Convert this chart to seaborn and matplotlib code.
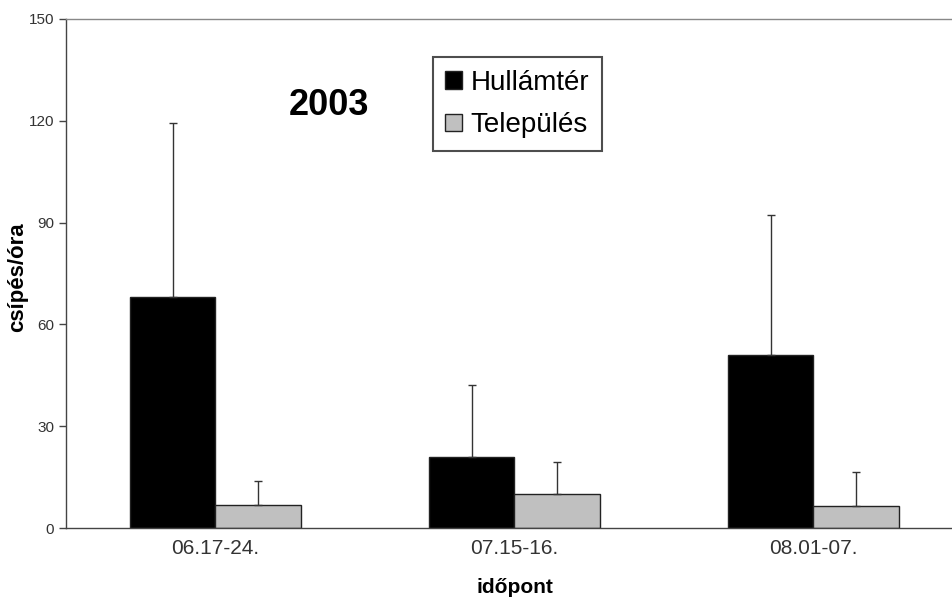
import numpy as np
import matplotlib
matplotlib.use('Agg')
import matplotlib.pyplot as plt
import seaborn as sns
import pandas as pd

# Data
periods = ['06.17-24.', '07.15-16.', '08.01-07.']
groups = ['Hullámtér', 'Település']
hullamter = [68.0, 21.0, 51.0]
telepules = [6.8, 10.0, 6.6]
hullamter_err = [51.4, 21.0, 41.2]
telepules_err = [7.1, 9.5, 10.0]

df = pd.DataFrame({
    'időpont': periods * 2,
    'érték': hullamter + telepules,
    'csoport': [groups[0]] * 3 + [groups[1]] * 3,
})

sns.set_style('white')
plt.rcParams['font.family'] = ['Liberation Sans', 'DejaVu Sans']
plt.rcParams['text.color'] = 'black'

fig = plt.figure(figsize=(9.53, 5.97), dpi=100)
ax = fig.add_axes([66 / 953, 69 / 597, 897 / 953, 509 / 597])

sns.barplot(data=df, x='időpont', y='érték', hue='csoport',
            palette=['#000000', '#c0c0c0'], edgecolor='#222222', linewidth=1,
            width=0.57, errorbar=None, ax=ax)

# upper-only error bars
for cont, err in zip(ax.containers, [hullamter_err, telepules_err]):
    xs = [b.get_x() + b.get_width() / 2 for b in cont]
    hs = [b.get_height() for b in cont]
    ax.errorbar(xs, hs, yerr=[np.zeros(len(err)), err], fmt='none',
                ecolor='#333333', elinewidth=1, capsize=3, capthick=1)

ax.set_xlim(-0.5, 2.5)
ax.set_ylim(0, 150)
ax.set_yticks([0, 30, 60, 90, 120, 150])
ax.set_xticks([0, 1, 2])
ax.set_xticklabels(periods)
ax.set_xticks([-0.5, 0.5, 1.5, 2.5], minor=True)
ax.tick_params(axis='x', which='major', length=0, labelsize=15, colors='#333333', pad=8)
ax.tick_params(axis='x', which='minor', length=5, width=1, color='#444444', direction='out')
ax.tick_params(axis='y', length=5, width=1, color='#444444', direction='out',
               labelsize=11, labelcolor='#333333', left=True)

for side in ['left', 'bottom']:
    ax.spines[side].set_color('#444444')
    ax.spines[side].set_linewidth(1)
ax.spines['top'].set_color('#888888')
ax.spines['top'].set_linewidth(1)
ax.spines['right'].set_visible(False)

ax.set_ylabel('csípés/óra', fontsize=16, fontweight='bold', color='black')
ax.yaxis.set_label_coords(-0.042, 0.493)
ax.set_xlabel('időpont', fontsize=15, fontweight='bold', color='black', labelpad=14)

ax.text(0.293, 0.831, '2003', transform=ax.transAxes, fontsize=26,
        fontweight='bold', ha='center', va='center', color='black')

leg = ax.legend(loc='upper left', bbox_to_anchor=(433 / 953, 1 - 57 / 597),
                bbox_transform=fig.transFigure, borderaxespad=0,
                fontsize=20, frameon=True, fancybox=False, handlelength=0.6,
                handleheight=0.6, handletextpad=0.3, labelspacing=0.6,
                borderpad=0.45, title=None)
leg.get_frame().set_edgecolor('#222222')
leg.get_frame().set_linewidth(1.5)
for t in leg.get_texts():
    t.set_color('black')

fig.savefig('out.png', dpi=100)
